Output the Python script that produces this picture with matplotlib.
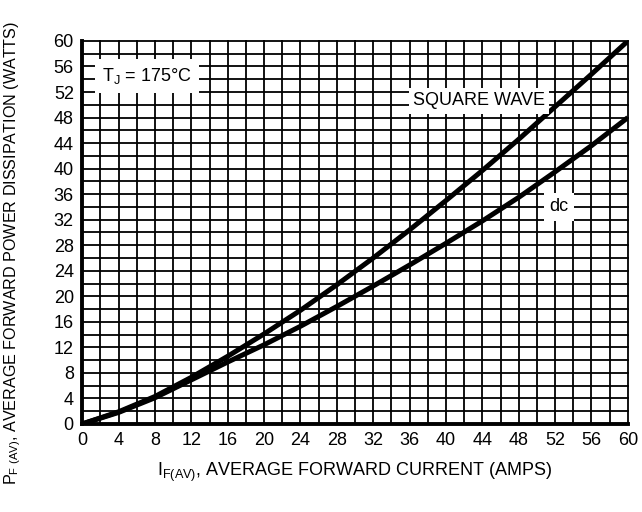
import matplotlib
matplotlib.use("Agg")
import matplotlib.pyplot as plt
import numpy as np

# forward current (A) and dissipated power (W)
current = [0, 4, 8, 12, 16, 20, 24, 28, 32, 36, 40, 44, 48, 52, 56, 60]
p_square = [0, 1.9, 4.3, 7.3, 10.6, 14.1, 17.8, 21.8, 26.0, 30.4, 35.0, 39.7, 44.6, 49.7, 54.8, 60.0]
p_dc = [0, 1.8, 4.1, 6.9, 9.7, 12.4, 15.3, 18.4, 21.6, 24.9, 28.3, 31.8, 35.5, 39.5, 43.6, 48.0]

ticks = np.arange(0, 61, 4)
grid = np.arange(0, 61, 2)

plt.rcParams['font.family'] = ['Liberation Sans', 'DejaVu Sans']

fig = plt.figure(figsize=(6.42, 5.12), dpi=100)
ax = fig.add_axes([0.128, 0.172, 0.850, 0.748])

for g in grid:
    ax.axvline(g, color='black', lw=1.3, zorder=1, clip_on=False)
    ax.axhline(g, color='black', lw=1.3, zorder=1, clip_on=False)

ax.plot(current, p_square, color='black', lw=3.6, zorder=3, solid_capstyle='butt')
ax.plot(current, p_dc, color='black', lw=3.6, zorder=3, solid_capstyle='butt')

ax.set_xlim(0, 60)
ax.set_ylim(0, 60)
ax.set_xticks(ticks)
ax.set_yticks(ticks)
ax.tick_params(length=0, labelsize=13, pad=6)

for s in ['top', 'right']:
    ax.spines[s].set_visible(False)
ax.spines['left'].set_linewidth(2.8)
ax.spines['bottom'].set_linewidth(2.8)
ax.spines['left'].set_zorder(4)
ax.spines['bottom'].set_zorder(4)

box = dict(facecolor='white', edgecolor='none', pad=3)
ax.text(7.1, 54.5, r'T$_\mathregular{J}$ = 175°C', fontsize=13, ha='center', va='center',
        bbox=dict(facecolor='white', edgecolor='none', pad=5), zorder=5)
ax.text(43.6, 50.6, 'SQUARE WAVE', fontsize=13, ha='center', va='center', bbox=box, zorder=5)
ax.text(52.4, 34.0, 'dc', fontsize=13, ha='center', va='center',
        bbox=dict(facecolor='white', edgecolor='none', pad=4), zorder=5)

ax.set_xlabel(r'I$_\mathregular{F(AV)}$, AVERAGE FORWARD CURRENT (AMPS)', fontsize=13, labelpad=8)
fig.text(0.02, 0.505, r'P$_\mathregular{F\ (AV)}$, AVERAGE FORWARD POWER DISSIPATION (WATTS)',
         fontsize=11.6, rotation=90, ha='center', va='center')

fig.savefig('out.png', dpi=100)
